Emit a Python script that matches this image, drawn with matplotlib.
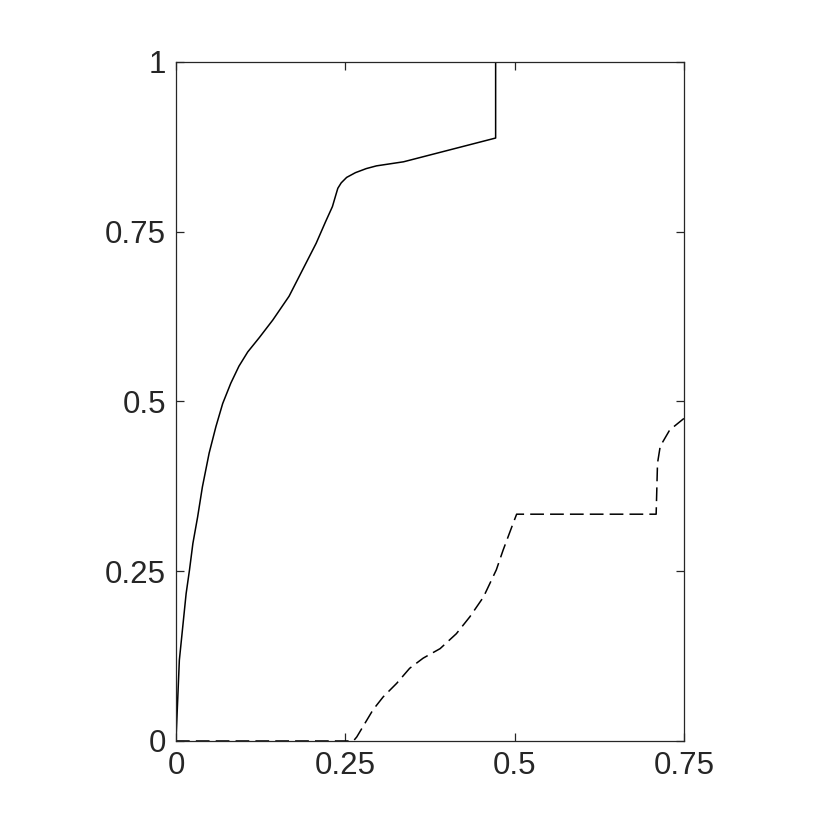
import matplotlib
matplotlib.use("Agg")
import matplotlib.pyplot as plt
import numpy as np

# solid curve
solid_x = [0.0, 0.005, 0.010, 0.015, 0.020, 0.025, 0.032, 0.039, 0.049, 0.059,
           0.069, 0.081, 0.093, 0.106, 0.123, 0.143, 0.167, 0.187, 0.207, 0.221,
           0.231, 0.236, 0.239, 0.244, 0.252, 0.265, 0.281, 0.296, 0.336, 0.472,
           0.472, 0.75]
solid_y = [0.0, 0.119, 0.168, 0.217, 0.252, 0.291, 0.330, 0.374, 0.424, 0.463,
           0.497, 0.527, 0.552, 0.573, 0.594, 0.620, 0.655, 0.694, 0.733, 0.765,
           0.787, 0.804, 0.814, 0.822, 0.830, 0.837, 0.843, 0.847, 0.853, 0.888,
           1.0, 1.0]

# dashed curve
dash_x = [0.0, 0.262, 0.267, 0.291, 0.306, 0.326, 0.345, 0.365, 0.390, 0.414,
          0.434, 0.454, 0.473, 0.483, 0.498, 0.503, 0.709, 0.711, 0.715, 0.729, 0.75]
dash_y = [0.0, 0.0, 0.006, 0.046, 0.065, 0.085, 0.107, 0.122, 0.136, 0.158,
          0.183, 0.212, 0.252, 0.281, 0.321, 0.334, 0.334, 0.409, 0.434, 0.458, 0.475]

xticks = [0, 0.25, 0.5, 0.75]
xlabels = ["0", "0.25", "0.5", "0.75"]
yticks = [0, 0.25, 0.5, 0.75, 1]
ylabels = ["0", "0.25", "0.5", "0.75", "1"]

plt.rcParams['font.family'] = ['Liberation Sans', 'DejaVu Sans']

fig = plt.figure(figsize=(8.3, 8.32), dpi=100)
ax = fig.add_axes([0.212, 0.1094, 0.612, 0.8161])

ax.plot(solid_x, solid_y, color='black', lw=1.1)
ax.plot(dash_x, dash_y, color='black', lw=1.1, linestyle=(0, (9, 4)))

ax.set_xlim(0, 0.75)
ax.set_ylim(0, 1)
ax.set_xticks(xticks)
ax.set_xticklabels(xlabels)
ax.set_yticks(yticks)
ax.set_yticklabels(ylabels)

ax.tick_params(direction='in', length=6, width=0.9, top=True, right=True,
               labelsize=22.5, colors='#262626', pad=7)
for s in ax.spines.values():
    s.set_color('#262626')
    s.set_linewidth(0.9)

fig.savefig("out.png", dpi=100)
